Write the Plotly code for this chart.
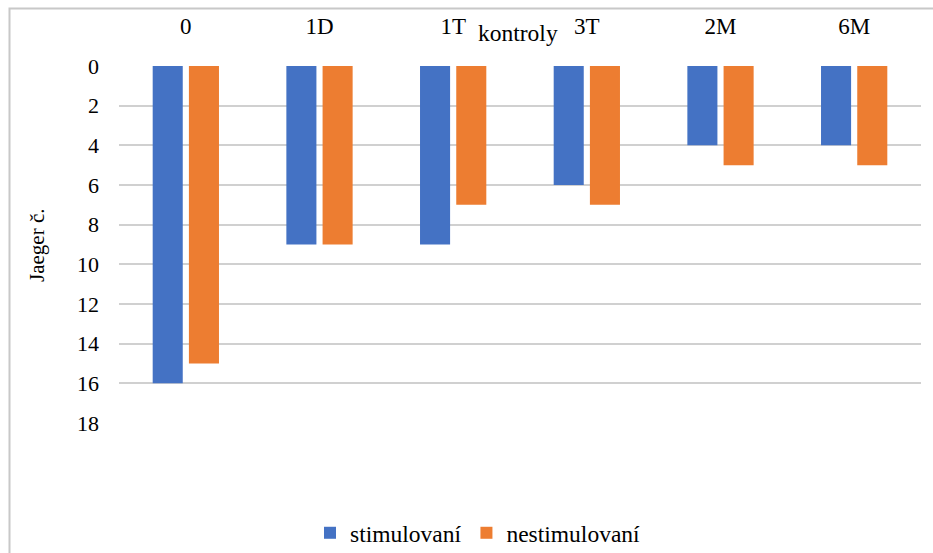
import plotly.graph_objects as go

# Follow-up checkpoints and Jaeger chart readings per group
kontroly = ["0", "1D", "1T", "3T", "2M", "6M"]
stimulovani = [16, 9, 9, 6, 4, 4]
nestimulovani = [15, 9, 7, 7, 5, 5]
y_ticks = [0, 2, 4, 6, 8, 10, 12, 14, 16, 18]

W, H = 933, 553
ML, MR, MT, MB = 119, 12, 66, 130
PW, PH = W - ML - MR, H - MT - MB


def px_x(px):
    return (px - ML) / PW


def px_y(py):
    return (H - MB - py) / PH


FONT = "Liberation Serif"

fig = go.Figure()
fig.add_trace(go.Bar(name="stimulovaní", x=kontroly, y=stimulovani,
                     marker=dict(color="#4472C4", line=dict(width=0))))
fig.add_trace(go.Bar(name="nestimulovaní", x=kontroly, y=nestimulovani,
                     marker=dict(color="#ED7D31", line=dict(width=0))))

fig.update_layout(
    width=W, height=H,
    margin=dict(l=ML, r=MR, t=MT, b=MB, autoexpand=False),
    paper_bgcolor="white", plot_bgcolor="white",
    barmode="group", bargap=0.458, bargroupgap=0.17,
    font=dict(family=FONT, size=22, color="#000000"),
    showlegend=True,
    legend=dict(orientation="h", x=px_x(478), xanchor="center",
                y=px_y(533), yanchor="middle",
                font=dict(family=FONT, size=23.5, color="#000000"),
                itemwidth=30, bgcolor="rgba(0,0,0,0)"),
)

fig.update_xaxes(side="top", showgrid=False, zeroline=False, showline=False,
                 ticks="", ticklabelstandoff=26,
                 tickfont=dict(family=FONT, size=23, color="#000000"))
fig.update_yaxes(autorange=False, range=[18, 0], tickvals=y_ticks,
                 showgrid=True, gridcolor="#D0D0D0", gridwidth=1.5,
                 zeroline=False, showline=False, ticks="",
                 ticklabelstandoff=19,
                 tickfont=dict(family=FONT, size=22, color="#000000"))

# Axis titles
fig.add_annotation(text="kontroly", xref="paper", yref="paper",
                   x=px_x(518), y=px_y(33), xanchor="center", yanchor="middle",
                   showarrow=False, font=dict(family=FONT, size=23.5, color="#000000"))
fig.add_annotation(text="Jaeger č.", xref="paper", yref="paper",
                   x=px_x(37), y=px_y(246), xanchor="center", yanchor="middle",
                   textangle=-90, showarrow=False,
                   font=dict(family=FONT, size=21, color="#000000"))

# Chart frame
fig.add_shape(type="rect", xref="paper", yref="paper",
              x0=px_x(9.5), y0=px_y(565), x1=px_x(945), y1=px_y(8.5),
              line=dict(color="#C8C8C8", width=2), fillcolor="rgba(0,0,0,0)",
              layer="below")

fig.write_html("out.html")
